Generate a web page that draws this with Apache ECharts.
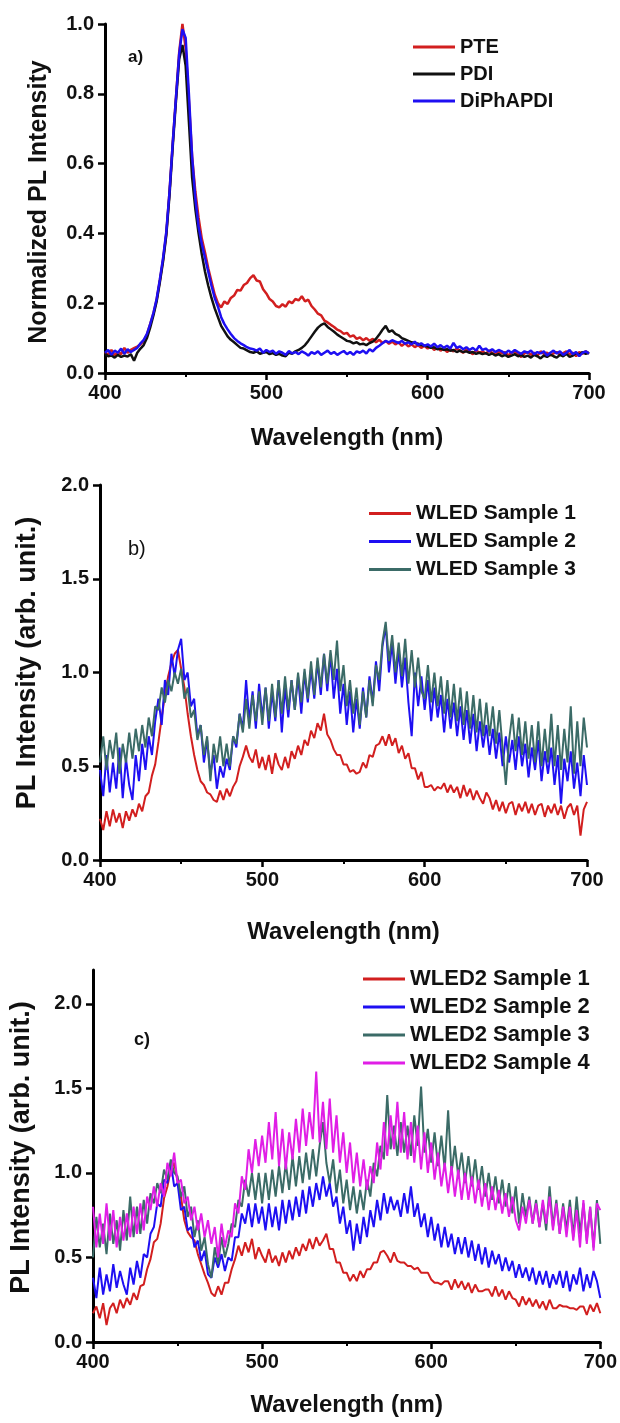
<!DOCTYPE html>
<html>
<head>
<meta charset="utf-8">
<script src="https://cdn.jsdelivr.net/npm/echarts@6/dist/echarts.min.js"></script>
<style>
html,body{margin:0;padding:0;background:#fff;}
#chart{width:620px;height:1423px;}
</style>
</head>
<body>
<div id="chart"></div>
<script>
// ---------- DATA ----------
const wavelengths = [
400,402,404,406,408,410,412,414,416,418,
420,422,424,426,428,430,432,434,436,438,
440,442,444,446,448,450,452,454,456,458,
460,462,464,466,468,470,472,474,476,478,
480,482,484,486,488,490,492,494,496,498,
500,502,504,506,508,510,512,514,516,518,
520,522,524,526,528,530,532,534,536,538,
540,542,544,546,548,550,552,554,556,558,
560,562,564,566,568,570,572,574,576,578,
580,582,584,586,588,590,592,594,596,598,
600,602,604,606,608,610,612,614,616,618,
620,622,624,626,628,630,632,634,636,638,
640,642,644,646,648,650,652,654,656,658,
660,662,664,666,668,670,672,674,676,678,
680,682,684,686,688,690,692,694,696,698,
700];

const xTicks = [400, 500, 600, 700];
const yTicksA = [0.0, 0.2, 0.4, 0.6, 0.8, 1.0];
const yTicksB = [0.0, 0.5, 1.0, 1.5, 2.0];
const yTicksC = [0.0, 0.5, 1.0, 1.5, 2.0];

// Panel a
const namesA = ['PTE', 'PDI', 'DiPhAPDI'];
const pte = [
0.060,0.052,0.066,0.050,0.061,0.054,0.072,0.058,0.066,0.071,
0.076,0.082,0.092,0.110,0.140,0.170,0.210,0.265,0.325,0.400,
0.520,0.660,0.790,0.920,1.000,0.930,0.780,0.620,0.520,0.445,
0.385,0.345,0.300,0.262,0.225,0.200,0.188,0.205,0.198,0.215,
0.222,0.238,0.236,0.252,0.258,0.272,0.280,0.265,0.262,0.240,
0.228,0.212,0.205,0.192,0.188,0.197,0.190,0.205,0.200,0.212,
0.208,0.220,0.205,0.210,0.192,0.182,0.170,0.165,0.150,0.145,
0.138,0.132,0.124,0.120,0.112,0.115,0.104,0.108,0.098,0.102,
0.094,0.100,0.092,0.098,0.088,0.095,0.086,0.092,0.084,0.090,
0.082,0.088,0.078,0.085,0.076,0.082,0.074,0.080,0.072,0.078,
0.070,0.076,0.066,0.074,0.064,0.071,0.060,0.068,0.062,0.070,
0.064,0.058,0.067,0.060,0.054,0.065,0.058,0.062,0.055,0.064,
0.058,0.052,0.062,0.056,0.060,0.050,0.058,0.062,0.054,0.046,
0.056,0.060,0.052,0.058,0.049,0.062,0.055,0.058,0.050,0.056,
0.060,0.052,0.057,0.062,0.054,0.058,0.048,0.060,0.055,0.062,
0.056];
const pdi = [
0.055,0.048,0.050,0.044,0.052,0.046,0.050,0.047,0.054,0.035,
0.058,0.070,0.080,0.100,0.130,0.165,0.205,0.260,0.320,0.395,
0.510,0.650,0.780,0.900,0.940,0.880,0.720,0.560,0.470,0.400,
0.340,0.290,0.250,0.215,0.185,0.160,0.135,0.120,0.105,0.095,
0.088,0.080,0.072,0.070,0.065,0.060,0.058,0.062,0.055,0.058,
0.060,0.054,0.057,0.052,0.055,0.050,0.048,0.058,0.055,0.062,
0.066,0.072,0.080,0.092,0.105,0.118,0.130,0.138,0.142,0.132,
0.125,0.118,0.110,0.104,0.098,0.092,0.090,0.085,0.088,0.082,
0.084,0.080,0.086,0.090,0.098,0.110,0.124,0.135,0.118,0.122,
0.112,0.108,0.100,0.096,0.092,0.088,0.086,0.084,0.080,0.078,
0.076,0.072,0.074,0.068,0.070,0.066,0.068,0.064,0.066,0.060,
0.064,0.060,0.062,0.058,0.060,0.055,0.058,0.054,0.057,0.052,
0.056,0.050,0.054,0.048,0.052,0.046,0.050,0.054,0.048,0.052,
0.046,0.050,0.044,0.052,0.048,0.042,0.050,0.046,0.053,0.048,
0.044,0.052,0.048,0.055,0.046,0.050,0.058,0.052,0.060,0.055,
0.058];
const diphapdi = [
0.058,0.066,0.052,0.064,0.058,0.070,0.055,0.068,0.060,0.066,
0.072,0.085,0.095,0.112,0.140,0.172,0.212,0.268,0.330,0.405,
0.520,0.660,0.790,0.915,0.985,0.960,0.800,0.620,0.500,0.420,
0.370,0.330,0.290,0.250,0.215,0.190,0.160,0.140,0.125,0.112,
0.100,0.092,0.085,0.080,0.074,0.070,0.068,0.064,0.070,0.058,
0.066,0.060,0.064,0.055,0.062,0.058,0.052,0.063,0.056,0.060,
0.054,0.062,0.057,0.050,0.060,0.055,0.062,0.052,0.058,0.064,
0.055,0.060,0.052,0.058,0.063,0.054,0.060,0.052,0.062,0.058,
0.064,0.056,0.068,0.062,0.072,0.078,0.085,0.092,0.088,0.094,
0.090,0.086,0.092,0.084,0.088,0.082,0.090,0.080,0.085,0.078,
0.082,0.076,0.084,0.074,0.080,0.072,0.078,0.070,0.086,0.072,
0.076,0.068,0.074,0.066,0.072,0.064,0.078,0.066,0.070,0.062,
0.068,0.060,0.066,0.062,0.056,0.064,0.058,0.066,0.060,0.055,
0.062,0.058,0.064,0.054,0.060,0.056,0.062,0.050,0.058,0.064,
0.056,0.062,0.052,0.058,0.066,0.054,0.060,0.048,0.058,0.062,
0.056];

// Panel b
const namesB = ['WLED Sample 1', 'WLED Sample 2', 'WLED Sample 3'];
const wledS1 = [
0.22,0.16,0.26,0.18,0.27,0.20,0.25,0.17,0.26,0.21,
0.27,0.23,0.30,0.26,0.34,0.36,0.45,0.51,0.63,0.76,
0.88,0.98,1.05,1.10,1.12,1.02,0.92,0.78,0.66,0.56,
0.48,0.42,0.40,0.36,0.35,0.32,0.31,0.37,0.32,0.38,
0.34,0.39,0.42,0.50,0.55,0.61,0.55,0.52,0.59,0.49,
0.55,0.48,0.56,0.46,0.57,0.51,0.48,0.55,0.49,0.58,
0.54,0.61,0.56,0.64,0.61,0.69,0.65,0.73,0.69,0.78,
0.67,0.64,0.59,0.56,0.56,0.51,0.51,0.47,0.48,0.46,
0.47,0.52,0.49,0.56,0.55,0.61,0.62,0.66,0.61,0.67,
0.61,0.65,0.57,0.61,0.54,0.57,0.49,0.49,0.43,0.47,
0.39,0.39,0.40,0.37,0.39,0.38,0.41,0.36,0.40,0.36,
0.39,0.33,0.40,0.34,0.38,0.32,0.37,0.33,0.30,0.36,
0.33,0.27,0.32,0.26,0.31,0.25,0.30,0.31,0.24,0.30,
0.26,0.31,0.25,0.30,0.24,0.29,0.30,0.23,0.29,0.25,
0.30,0.24,0.29,0.22,0.28,0.30,0.24,0.29,0.13,0.27,
0.31];
const wledS2 = [
0.48,0.34,0.56,0.36,0.52,0.38,0.60,0.33,0.54,0.40,
0.32,0.56,0.42,0.62,0.48,0.66,0.56,0.74,0.86,0.72,
0.96,0.88,1.10,0.98,1.12,1.18,0.96,1.00,0.82,0.86,
0.66,0.72,0.52,0.64,0.46,0.56,0.38,0.50,0.44,0.54,
0.48,0.66,0.60,0.78,0.70,0.96,0.74,0.90,0.70,0.94,
0.76,0.92,0.70,0.90,0.74,0.96,0.68,0.92,0.76,0.96,
0.80,0.98,0.78,1.00,0.84,1.02,0.86,1.06,0.88,1.10,
0.90,1.10,0.86,1.02,0.78,0.94,0.72,0.90,0.68,0.86,
0.70,0.92,0.76,0.98,0.84,1.06,0.90,1.14,1.25,1.00,
1.16,0.94,1.12,0.92,1.08,0.84,0.66,1.00,0.82,0.98,
0.80,0.96,0.74,0.92,0.76,0.88,0.68,0.86,0.70,0.84,
0.66,0.82,0.64,0.80,0.62,0.78,0.58,0.74,0.60,0.72,
0.56,0.70,0.54,0.68,0.50,0.66,0.52,0.64,0.48,0.66,
0.50,0.62,0.44,0.60,0.48,0.64,0.42,0.58,0.46,0.60,
0.40,0.56,0.30,0.54,0.42,0.58,0.38,0.52,0.34,0.56,
0.40];
const wledS3 = [
0.52,0.66,0.48,0.64,0.54,0.68,0.46,0.62,0.52,0.68,
0.54,0.70,0.58,0.72,0.60,0.76,0.66,0.82,0.80,0.92,
0.84,0.96,0.90,1.00,0.94,1.02,0.86,0.92,0.76,0.80,
0.64,0.72,0.56,0.66,0.42,0.62,0.52,0.66,0.50,0.62,
0.50,0.66,0.62,0.78,0.68,0.86,0.70,0.88,0.74,0.90,
0.72,0.92,0.74,0.94,0.76,0.96,0.78,0.98,0.80,0.96,
0.80,1.00,0.84,1.02,0.86,1.06,0.88,1.08,0.92,1.10,
0.94,1.12,0.96,1.17,0.90,1.04,0.82,0.96,0.78,0.92,
0.72,0.90,0.76,0.96,0.82,1.04,0.96,1.16,1.27,1.06,
1.20,1.00,1.16,0.98,1.18,0.94,1.12,0.92,1.08,0.90,
0.86,1.04,0.84,1.00,0.82,0.98,0.78,0.96,0.76,0.94,
0.74,0.92,0.72,0.90,0.70,0.88,0.68,0.86,0.66,0.84,
0.66,0.82,0.62,0.80,0.60,0.40,0.64,0.78,0.58,0.76,
0.56,0.74,0.54,0.72,0.52,0.74,0.50,0.70,0.52,0.78,
0.50,0.72,0.48,0.70,0.52,0.82,0.46,0.74,0.50,0.76,
0.60];

// Panel c
const namesC = ['WLED2 Sample 1', 'WLED2 Sample 2', 'WLED2 Sample 3', 'WLED2 Sample 4'];
const wled2S1 = [
0.17,0.21,0.14,0.23,0.10,0.20,0.23,0.17,0.25,0.20,
0.26,0.22,0.29,0.25,0.33,0.34,0.43,0.49,0.59,0.61,
0.70,0.85,0.92,1.02,1.06,0.95,0.86,0.72,0.65,0.62,
0.60,0.52,0.46,0.40,0.35,0.29,0.27,0.33,0.28,0.35,
0.35,0.43,0.49,0.57,0.51,0.59,0.53,0.61,0.49,0.56,
0.51,0.47,0.55,0.47,0.51,0.45,0.53,0.47,0.54,0.49,
0.56,0.51,0.58,0.54,0.61,0.55,0.62,0.57,0.60,0.64,
0.55,0.55,0.47,0.47,0.41,0.41,0.36,0.40,0.36,0.42,
0.38,0.43,0.43,0.47,0.47,0.53,0.54,0.51,0.47,0.53,
0.48,0.47,0.47,0.45,0.45,0.43,0.44,0.41,0.41,0.41,
0.37,0.35,0.35,0.34,0.36,0.36,0.31,0.37,0.32,0.36,
0.31,0.35,0.29,0.34,0.30,0.30,0.31,0.31,0.27,0.33,
0.27,0.31,0.25,0.30,0.26,0.25,0.21,0.27,0.22,0.26,
0.21,0.25,0.20,0.24,0.19,0.25,0.20,0.20,0.22,0.21,
0.21,0.20,0.20,0.19,0.21,0.21,0.16,0.22,0.18,0.23,
0.17];
const wled2S2 = [
0.38,0.26,0.44,0.28,0.40,0.30,0.46,0.32,0.42,0.34,
0.28,0.44,0.34,0.48,0.38,0.52,0.50,0.64,0.68,0.82,
0.80,0.96,0.94,1.06,0.92,0.94,0.78,0.80,0.66,0.68,
0.56,0.60,0.48,0.54,0.40,0.38,0.50,0.44,0.52,0.42,
0.50,0.48,0.62,0.62,0.76,0.70,0.82,0.68,0.82,0.70,
0.80,0.66,0.82,0.68,0.80,0.66,0.84,0.70,0.84,0.72,
0.86,0.74,0.90,0.76,0.92,0.80,0.94,0.84,0.98,0.86,
0.94,0.80,0.86,0.70,0.80,0.64,0.72,0.54,0.70,0.58,
0.74,0.62,0.78,0.68,0.84,0.72,0.88,0.76,0.86,0.78,
0.84,0.74,0.88,0.76,0.92,0.74,0.82,0.68,0.76,0.62,
0.74,0.60,0.70,0.56,0.68,0.56,0.64,0.52,0.62,0.52,
0.62,0.50,0.60,0.48,0.58,0.46,0.56,0.44,0.54,0.46,
0.52,0.42,0.50,0.42,0.48,0.38,0.46,0.38,0.44,0.36,
0.44,0.34,0.42,0.34,0.42,0.32,0.40,0.34,0.42,0.32,
0.42,0.30,0.40,0.34,0.44,0.30,0.40,0.32,0.42,0.36,
0.26];
const wled2S3 = [
0.50,0.74,0.56,0.70,0.52,0.76,0.58,0.72,0.54,0.78,
0.60,0.86,0.62,0.80,0.64,0.84,0.70,0.88,0.82,0.94,
0.88,1.02,0.96,1.08,1.00,0.98,0.86,0.92,0.74,0.80,
0.62,0.72,0.54,0.62,0.46,0.38,0.56,0.46,0.62,0.50,
0.58,0.70,0.68,0.84,0.80,0.96,0.86,1.00,0.84,1.00,
0.82,1.00,0.84,1.02,0.86,1.04,0.88,1.06,0.90,1.10,
0.92,1.10,0.94,1.12,0.96,1.14,0.98,1.16,1.30,1.06,
0.94,1.08,0.88,1.02,0.82,0.96,0.78,0.92,0.76,0.90,
0.78,0.96,0.86,1.06,0.98,1.16,1.08,1.46,1.14,1.28,
1.10,1.30,1.12,1.28,1.10,1.34,1.16,1.51,1.12,1.26,
1.06,1.24,1.04,1.22,1.02,1.37,1.00,1.16,0.98,1.12,
0.94,1.10,0.92,1.08,0.90,1.04,0.86,1.00,0.84,0.98,
0.82,0.96,0.80,0.94,0.76,0.92,0.70,0.88,0.74,0.86,
0.70,0.84,0.68,0.82,0.66,0.92,0.68,0.84,0.64,0.82,
0.66,0.84,0.62,0.86,0.64,0.82,0.60,0.80,0.56,0.84,
0.58];
const wled2S4 = [
0.80,0.56,0.76,0.58,0.82,0.60,0.78,0.56,0.74,0.60,
0.76,0.62,0.80,0.64,0.82,0.66,0.86,0.78,0.92,0.80,
0.94,0.86,1.06,0.98,1.12,0.94,0.96,0.82,0.86,0.72,
0.80,0.66,0.76,0.62,0.72,0.58,0.68,0.50,0.70,0.56,
0.66,0.62,0.82,0.76,0.98,0.90,1.14,1.00,1.20,1.04,
1.22,1.06,1.30,1.08,1.36,1.04,1.26,1.02,1.24,1.08,
1.32,1.12,1.38,1.16,1.36,1.20,1.60,1.18,1.42,1.14,
1.44,1.12,1.34,1.06,1.24,1.00,1.18,0.94,1.12,0.92,
1.08,0.90,1.04,0.94,1.18,1.02,1.30,1.10,1.34,1.14,
1.42,1.12,1.36,1.08,1.30,1.06,1.28,1.02,1.24,1.00,
1.18,0.96,1.12,0.92,1.06,0.88,1.04,0.86,1.02,0.84,
1.00,0.84,0.98,0.82,0.96,0.80,0.94,0.78,0.92,0.78,
0.90,0.76,0.88,0.74,0.86,0.72,0.66,0.80,0.70,0.84,
0.70,0.82,0.68,0.84,0.70,0.86,0.66,0.82,0.64,0.80,
0.62,0.80,0.60,0.78,0.56,0.84,0.58,0.80,0.54,0.82,
0.78];

// ---------- CHART ----------
const FONT = '"Liberation Sans", Arial, Helvetica, sans-serif';
const RED = '#d21f1f', BLACK = '#111111', BLUE = '#1e0ff2', TEAL = '#3b6b67', MAG = '#e01ee6';

function pairs(ys) { return wavelengths.map((w, i) => [w, ys[i]]); }

function xAxis(gridIndex, nameGap) {
  return {
    gridIndex, type: 'value', min: 400, max: 700, interval: 100,
    name: 'Wavelength (nm)', nameLocation: 'middle', nameGap,
    nameTextStyle: { fontFamily: FONT, fontWeight: 'bold', fontSize: 24, color: '#111' },
    axisLine: { show: true, onZero: false, lineStyle: { color: '#000', width: 3 } },
    axisTick: { show: true, length: 7, lineStyle: { color: '#000', width: 2.5 }, customValues: xTicks },
    minorTick: { show: true, splitNumber: 2, length: 4, lineStyle: { color: '#000', width: 2 } },
    axisLabel: { fontFamily: FONT, fontWeight: 'bold', fontSize: 20, color: '#111', margin: 10, customValues: xTicks },
    splitLine: { show: false }
  };
}
function yAxis(gridIndex, max, interval, ticks, name, nameGap, nameSize, namePad) {
  return {
    gridIndex, type: 'value', min: 0, max, interval,
    name, nameLocation: 'middle', nameGap, nameRotate: 90,
    nameTextStyle: { fontFamily: FONT, fontWeight: 'bold', fontSize: nameSize, color: '#111', padding: namePad },
    axisLine: { show: true, onZero: false, lineStyle: { color: '#000', width: 3 } },
    axisTick: { show: true, length: 7, lineStyle: { color: '#000', width: 2.5 }, customValues: ticks },
    axisLabel: { fontFamily: FONT, fontWeight: 'bold', fontSize: 20, color: '#111', margin: 11,
      customValues: ticks, formatter: v => v.toFixed(1) },
    splitLine: { show: false }
  };
}
function line(name, xi, ys, color, width) {
  return {
    name, type: 'line', xAxisIndex: xi, yAxisIndex: xi, data: pairs(ys),
    showSymbol: false, symbol: 'none', lineStyle: { color, width }, itemStyle: { color },
    emphasis: { disabled: true }, z: 2
  };
}
function legend(data, left, top, fontSize, gap) {
  return {
    data, orient: 'vertical', left, top, icon: 'rect', itemWidth: 42, itemHeight: 3,
    itemGap: gap, selectedMode: false, padding: 0,
    textStyle: { fontFamily: FONT, fontWeight: 'bold', fontSize, color: '#111', padding: 0 }
  };
}
const labelStyle = (w, s) => ({ fontFamily: FONT, fontWeight: w, fontSize: s, color: '#111' });

const chart = echarts.init(document.getElementById('chart'), null, { renderer: 'canvas' });
chart.setOption({
  animation: false,
  backgroundColor: '#ffffff',
  title: [
    { text: 'a)', left: 128, top: 49, padding: 0, textStyle: labelStyle('bold', 17) },
    { text: 'b)', left: 128, top: 539, padding: 0, textStyle: labelStyle('normal', 20) },
    { text: 'c)', left: 134, top: 1031, padding: 0, textStyle: labelStyle('bold', 18) }
  ],
  grid: [
    { left: 105, right: 31, top: 24, bottom: 1050, containLabel: false },
    { left: 100, right: 33, top: 485, bottom: 563, containLabel: false },
    { left: 93, right: 17, top: 970, bottom: 81, containLabel: false }
  ],
  legend: [
    legend(namesA, 413, 37, 20, 7),
    legend(namesB, 369, 503, 21, 7),
    legend(namesC, 363, 968, 22, 6)
  ],
  xAxis: [xAxis(0, 53), xAxis(1, 60), xAxis(2, 51)],
  yAxis: [
    yAxis(0, 1.0, 0.2, yTicksA, 'Normalized PL Intensity', 53, 25, [0, 7, 0, 0]),
    yAxis(1, 2.0, 0.5, yTicksB, 'PL Intensity (arb. unit.)', 59, 27, [0, 0, 0, 19]),
    yAxis(2, 2.2, 0.5, yTicksC, 'PL Intensity (arb. unit.)', 58, 27, [0, 0, 0, 17])
  ],
  series: [
    line(namesA[0], 0, pte, RED, 2.5),
    line(namesA[1], 0, pdi, BLACK, 2.5),
    line(namesA[2], 0, diphapdi, BLUE, 2.5),
    line(namesB[0], 1, wledS1, RED, 2),
    line(namesB[1], 1, wledS2, BLUE, 2),
    line(namesB[2], 1, wledS3, TEAL, 2),
    line(namesC[0], 2, wled2S1, RED, 2),
    line(namesC[1], 2, wled2S2, BLUE, 2),
    line(namesC[2], 2, wled2S3, TEAL, 2),
    line(namesC[3], 2, wled2S4, MAG, 2)
  ]
});
</script>
</body>
</html>
